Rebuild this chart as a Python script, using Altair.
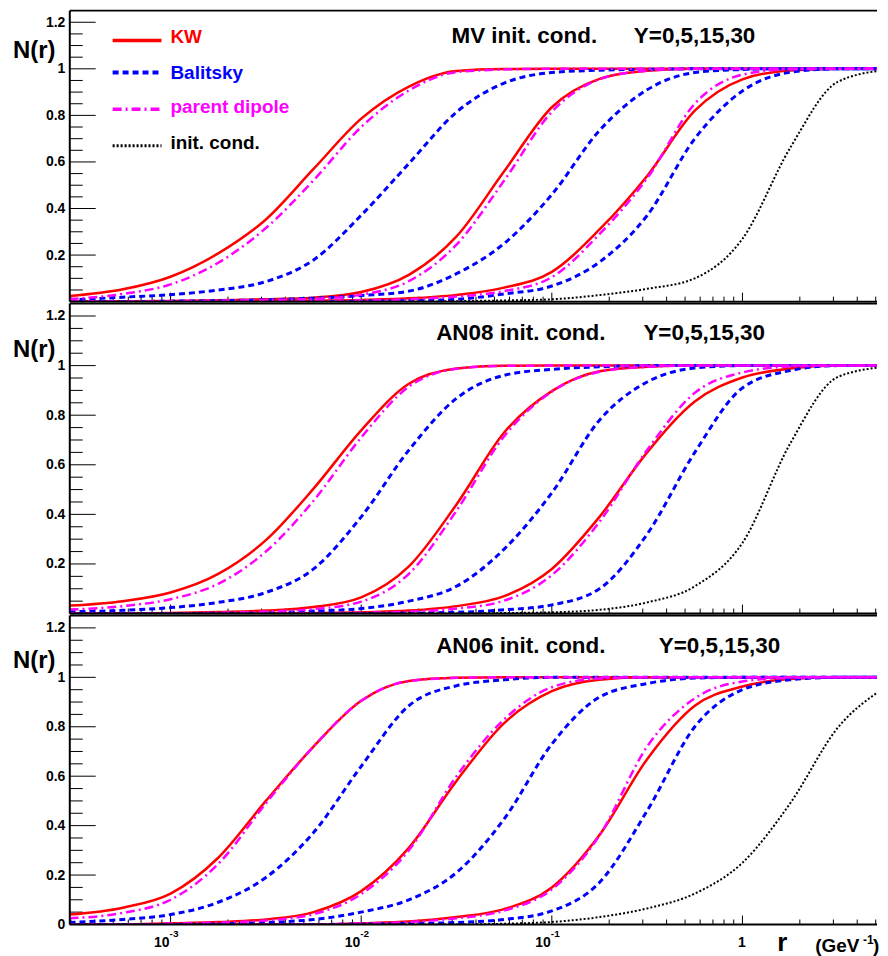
import altair as alt
import pandas as pd

# ---------------- data ----------------
LOGR = [-3.53, -3.25, -3.0, -2.75, -2.5, -2.25, -2.0, -1.75, -1.5, -1.25,
        -1.0, -0.75, -0.5, -0.25, 0.0, 0.25, 0.5, 0.75]

MV_KW_30 = [0.024, 0.053, 0.107, 0.207, 0.353, 0.570, 0.786, 0.924, 0.991, 0.999, 1.0, 1.0, 1.0, 1.0, 1.0, 1.0, 1.0, 1.0]
MV_PD_30 = [0.011, 0.033, 0.074, 0.167, 0.316, 0.521, 0.750, 0.907, 0.986, 0.997, 1.0, 1.0, 1.0, 1.0, 1.0, 1.0, 1.0, 1.0]
MV_BA_30 = [0.007, 0.019, 0.030, 0.050, 0.086, 0.179, 0.371, 0.593, 0.814, 0.939, 0.984, 0.994, 0.998, 1.0, 1.0, 1.0, 1.0, 1.0]
MV_KW_15 = [0.001, 0.002, 0.003, 0.006, 0.010, 0.017, 0.041, 0.115, 0.280, 0.560, 0.835, 0.957, 0.992, 1.0, 1.0, 1.0, 1.0, 1.0]
MV_PD_15 = [0.0, 0.001, 0.002, 0.004, 0.007, 0.012, 0.030, 0.088, 0.245, 0.520, 0.815, 0.955, 0.992, 1.0, 1.0, 1.0, 1.0, 1.0]
MV_BA_15 = [0.0, 0.0, 0.002, 0.004, 0.008, 0.015, 0.026, 0.045, 0.120, 0.250, 0.460, 0.735, 0.910, 0.984, 0.997, 1.0, 1.0, 1.0]
MV_KW_5 = [0.0, 0.0, 0.0, 0.0, 0.002, 0.004, 0.007, 0.014, 0.029, 0.060, 0.128, 0.310, 0.540, 0.820, 0.955, 0.993, 1.0, 1.0]
MV_PD_5 = [0.0, 0.0, 0.0, 0.0, 0.001, 0.003, 0.005, 0.010, 0.022, 0.045, 0.105, 0.290, 0.530, 0.850, 0.975, 0.998, 1.0, 1.0]
MV_BA_5 = [0.0, 0.0, 0.0, 0.0, 0.0, 0.0, 0.002, 0.004, 0.010, 0.033, 0.067, 0.170, 0.370, 0.700, 0.905, 0.985, 1.0, 1.0]
MV_INIT = [0.0, 0.0, 0.0, 0.0, 0.0, 0.0, 0.0, 0.0, 0.002, 0.005, 0.010, 0.028, 0.055, 0.100, 0.270, 0.660, 0.944, 0.995]

AN08_KW_30 = [0.032, 0.050, 0.085, 0.160, 0.296, 0.504, 0.739, 0.927, 0.988, 0.999, 1.0, 1.0, 1.0, 1.0, 1.0, 1.0, 1.0, 1.0]
AN08_PD_30 = [0.016, 0.030, 0.058, 0.120, 0.250, 0.455, 0.710, 0.915, 0.987, 0.999, 1.0, 1.0, 1.0, 1.0, 1.0, 1.0, 1.0, 1.0]
AN08_BA_30 = [0.007, 0.013, 0.024, 0.045, 0.085, 0.180, 0.390, 0.659, 0.868, 0.961, 0.985, 0.995, 1.0, 1.0, 1.0, 1.0, 1.0, 1.0]
AN08_KW_15 = [0.0, 0.0, 0.002, 0.006, 0.012, 0.026, 0.065, 0.190, 0.440, 0.730, 0.897, 0.977, 0.995, 1.0, 1.0, 1.0, 1.0, 1.0]
AN08_PD_15 = [0.0, 0.0, 0.001, 0.003, 0.008, 0.018, 0.048, 0.160, 0.415, 0.715, 0.895, 0.975, 0.995, 1.0, 1.0, 1.0, 1.0, 1.0]
AN08_BA_15 = [0.0, 0.0, 0.0, 0.001, 0.002, 0.010, 0.020, 0.050, 0.110, 0.260, 0.487, 0.780, 0.934, 0.990, 1.0, 1.0, 1.0, 1.0]
AN08_KW_5 = [0.0, 0.0, 0.0, 0.0, 0.0, 0.002, 0.005, 0.012, 0.030, 0.070, 0.180, 0.390, 0.650, 0.855, 0.952, 0.988, 1.0, 1.0]
AN08_PD_5 = [0.0, 0.0, 0.0, 0.0, 0.0, 0.001, 0.003, 0.008, 0.020, 0.052, 0.155, 0.370, 0.660, 0.890, 0.972, 0.996, 1.0, 1.0]
AN08_BA_5 = [0.0, 0.0, 0.0, 0.0, 0.0, 0.0, 0.0, 0.002, 0.005, 0.015, 0.035, 0.100, 0.320, 0.650, 0.910, 0.980, 1.0, 1.0]
AN08_INIT = [0.0, 0.0, 0.0, 0.0, 0.0, 0.0, 0.0, 0.0, 0.0, 0.002, 0.005, 0.015, 0.045, 0.110, 0.285, 0.685, 0.954, 0.995]

AN06_KW_30 = [0.040, 0.068, 0.125, 0.270, 0.500, 0.720, 0.905, 0.985, 0.998, 1.0, 1.0, 1.0, 1.0, 1.0, 1.0, 1.0, 1.0, 1.0]
AN06_PD_30 = [0.025, 0.047, 0.100, 0.245, 0.490, 0.720, 0.905, 0.985, 0.998, 1.0, 1.0, 1.0, 1.0, 1.0, 1.0, 1.0, 1.0, 1.0]
AN06_BA_30 = [0.008, 0.020, 0.040, 0.090, 0.190, 0.372, 0.640, 0.885, 0.966, 0.990, 1.0, 1.0, 1.0, 1.0, 1.0, 1.0, 1.0, 1.0]
AN06_KW_15 = [0.0, 0.0, 0.005, 0.010, 0.020, 0.050, 0.135, 0.310, 0.581, 0.815, 0.944, 0.990, 1.0, 1.0, 1.0, 1.0, 1.0, 1.0]
AN06_PD_15 = [0.0, 0.0, 0.004, 0.008, 0.016, 0.042, 0.123, 0.300, 0.600, 0.830, 0.960, 0.995, 1.0, 1.0, 1.0, 1.0, 1.0, 1.0]
AN06_BA_15 = [0.0, 0.0, 0.0, 0.002, 0.008, 0.020, 0.050, 0.100, 0.210, 0.427, 0.730, 0.920, 0.975, 0.997, 1.0, 1.0, 1.0, 1.0]
AN06_KW_5 = [0.0, 0.0, 0.0, 0.0, 0.0, 0.0, 0.005, 0.012, 0.030, 0.062, 0.150, 0.362, 0.669, 0.885, 0.963, 0.993, 1.0, 1.0]
AN06_PD_5 = [0.0, 0.0, 0.0, 0.0, 0.0, 0.0, 0.004, 0.010, 0.025, 0.056, 0.142, 0.360, 0.720, 0.915, 0.983, 0.998, 1.0, 1.0]
AN06_BA_5 = [0.0, 0.0, 0.0, 0.0, 0.0, 0.0, 0.002, 0.004, 0.008, 0.020, 0.055, 0.170, 0.460, 0.800, 0.950, 0.990, 1.0, 1.0]
AN06_INIT = [0.0, 0.0, 0.0, 0.0, 0.0, 0.0, 0.0, 0.0, 0.0, 0.003, 0.010, 0.030, 0.065, 0.125, 0.250, 0.490, 0.796, 0.960]

PANEL_NAMES = ["MV init. cond.", "AN08 init. cond.", "AN06 init. cond."]
PANEL_Y_TEXT = "Y=0,5,15,30"
LEGEND_LABELS = ["KW", "Balitsky", "parent dipole", "init. cond."]

XTICK_MAJOR = [0.001, 0.01, 0.1, 1.0]
XTICK_BASE = ["10", "10", "10", "1"]
XTICK_EXP = ["-3", "-2", "-1", ""]
XTICK_MINOR = [0.0003, 0.0004, 0.0005, 0.0006, 0.0007, 0.0008, 0.0009,
               0.002, 0.003, 0.004, 0.005, 0.006, 0.007, 0.008, 0.009,
               0.02, 0.03, 0.04, 0.05, 0.06, 0.07, 0.08, 0.09,
               0.2, 0.3, 0.4, 0.5, 0.6, 0.7, 0.8, 0.9,
               2.0, 3.0, 4.0, 5.0]
YTICK_MAJOR_TOP = [0.2, 0.4, 0.6, 0.8, 1.0, 1.2]
YTICK_MAJOR_BOTTOM = [0.0, 0.2, 0.4, 0.6, 0.8, 1.0, 1.2]
YTICK_MINOR = [0.05, 0.1, 0.15, 0.25, 0.3, 0.35, 0.45, 0.5, 0.55, 0.65, 0.7, 0.75,
               0.85, 0.9, 0.95, 1.05, 1.1, 1.15]

PANELS = [
    {"KW": {30: MV_KW_30, 15: MV_KW_15, 5: MV_KW_5}, "BA": {30: MV_BA_30, 15: MV_BA_15, 5: MV_BA_5},
     "PD": {30: MV_PD_30, 15: MV_PD_15, 5: MV_PD_5}, "INIT": {0: MV_INIT}},
    {"KW": {30: AN08_KW_30, 15: AN08_KW_15, 5: AN08_KW_5}, "BA": {30: AN08_BA_30, 15: AN08_BA_15, 5: AN08_BA_5},
     "PD": {30: AN08_PD_30, 15: AN08_PD_15, 5: AN08_PD_5}, "INIT": {0: AN08_INIT}},
    {"KW": {30: AN06_KW_30, 15: AN06_KW_15, 5: AN06_KW_5}, "BA": {30: AN06_BA_30, 15: AN06_BA_15, 5: AN06_BA_5},
     "PD": {30: AN06_PD_30, 15: AN06_PD_15, 5: AN06_PD_5}, "INIT": {0: AN06_INIT}},
]

# ---------------- styling / layout ----------------
FONT = "Liberation Sans"
W = 810
HEIGHTS = [292, 311, 310]
STYLES = {
    "KW": dict(color="#ff0000", strokeWidth=2.5),
    "BA": dict(color="#0000ff", strokeWidth=3, strokeDash=[6, 4]),
    "PD": dict(color="#ff00ff", strokeWidth=2.5, strokeDash=[9, 4, 2, 4]),
    "INIT": dict(color="#000000", strokeWidth=2, strokeDash=[2, 2]),
}
LEGEND_KINDS = ["KW", "BA", "PD", "INIT"]
LEGEND_COLORS = ["#ff0000", "#0000ff", "#ff00ff", "#000000"]
TITLE_POS = [(383, 566, 32.5), (367.6, 575.6, 37), (367.6, 591, 37.5)]
NR_BASE = [48, 54, 53]

xscale = alt.Scale(type="log", domain=[2.96e-4, 5.08], nice=False)
yscale = alt.Scale(domain=[0, 1.25], nice=False, zero=False)


def yaxis(values):
    return alt.Axis(values=values, format="~g", ticks=False, domain=False, grid=False,
                    labelFont=FONT, labelFontWeight="bold", labelFontSize=14,
                    labelPadding=5, labelColor="black", title=None)


def text_layer(txt, x, y, size, color="black", align="left", baseline="alphabetic"):
    return alt.Chart(pd.DataFrame({"t": [txt]})).mark_text(
        font=FONT, fontWeight="bold", fontSize=size, color=color, align=align,
        baseline=baseline
    ).encode(x=alt.value(x), y=alt.value(y), text="t:N")


def frame_layer(H):
    one = pd.DataFrame({"t": [0]})
    top = alt.Chart(one).mark_rule(color="black", strokeWidth=2).encode(
        x=alt.value(0), x2=alt.value(W), y=alt.value(0))
    bottom = alt.Chart(one).mark_rule(color="black", strokeWidth=2).encode(
        x=alt.value(0), x2=alt.value(W), y=alt.value(H))
    left = alt.Chart(one).mark_rule(color="black", strokeWidth=2).encode(
        x=alt.value(0), y=alt.value(0), y2=alt.value(H))
    return [top, bottom, left]


def make_panel(i):
    H = HEIGHTS[i]
    ymaj = YTICK_MAJOR_BOTTOM if i == 2 else YTICK_MAJOR_TOP
    Y = alt.Y("N:Q", scale=yscale, axis=yaxis(ymaj), title=None)
    X = alt.X("r:Q", scale=xscale, axis=None, title=None)
    layers = []
    # inward y ticks
    layers.append(alt.Chart(pd.DataFrame({"N": ymaj})).mark_rule(color="black", strokeWidth=1)
                  .encode(y=Y, x=alt.value(0), x2=alt.value(26)))
    layers.append(alt.Chart(pd.DataFrame({"N": YTICK_MINOR})).mark_rule(color="black", strokeWidth=1)
                  .encode(y=Y, x=alt.value(0), x2=alt.value(13)))
    # inward x ticks
    layers.append(alt.Chart(pd.DataFrame({"r": XTICK_MAJOR})).mark_rule(color="black", strokeWidth=1)
                  .encode(x=X, y=alt.value(H), y2=alt.value(H - 9)))
    layers.append(alt.Chart(pd.DataFrame({"r": XTICK_MINOR})).mark_rule(color="black", strokeWidth=1)
                  .encode(x=X, y=alt.value(H), y2=alt.value(H - 5)))
    # curves
    for kind in ["KW", "BA", "PD", "INIT"]:
        rows = []
        for yv, vals in PANELS[i][kind].items():
            for lr, n in zip(LOGR, vals):
                rows.append({"r": 10 ** lr, "N": n, "series": f"{kind}{yv}"})
        df = pd.DataFrame(rows)
        layers.append(alt.Chart(df).mark_line(interpolate="monotone", clip=True,
                                              strokeCap="butt", **STYLES[kind])
                      .encode(x=X, y=Y, detail="series:N"))
    layers.extend(frame_layer(H))
    # titles
    tx1, tx2, tb = TITLE_POS[i]
    layers.append(text_layer(PANEL_NAMES[i], tx1, tb, 22.5))
    layers.append(text_layer(PANEL_Y_TEXT, tx2, tb, 22.5))
    layers.append(text_layer("N(r)", -57, NR_BASE[i], 24))
    if i == 0:
        line_y = [30, 62, 99, 135.5]
        text_y = [32.7, 68.3, 103, 139]
        for k, lab, col, ly, tyy in zip(LEGEND_KINDS, LEGEND_LABELS, LEGEND_COLORS, line_y, text_y):
            st = dict(STYLES[k])
            st["strokeWidth"] = st["strokeWidth"] + 1
            layers.append(alt.Chart(pd.DataFrame({"t": [lab]})).mark_rule(strokeCap="butt", **st)
                          .encode(x=alt.value(43), x2=alt.value(92), y=alt.value(ly)))
            layers.append(text_layer(lab, 101, tyy, 19, color=col))
    if i == 2:
        dfx = pd.DataFrame({"r": XTICK_MAJOR, "base": XTICK_BASE, "exp": XTICK_EXP})
        dexp = dfx[dfx["exp"] != ""]
        done = dfx[dfx["exp"] == ""]
        layers.append(alt.Chart(dexp).mark_text(font=FONT, fontWeight="bold", fontSize=14,
                                                align="right", baseline="middle", dx=-1, color="black")
                      .encode(x=X, y=alt.value(H + 18.5), text="base:N"))
        layers.append(alt.Chart(dexp).mark_text(font=FONT, fontWeight="bold", fontSize=10,
                                                align="left", baseline="middle", dx=-1, color="black")
                      .encode(x=X, y=alt.value(H + 10), text="exp:N"))
        layers.append(alt.Chart(done).mark_text(font=FONT, fontWeight="bold", fontSize=14,
                                                align="center", baseline="middle", dx=-0.5, color="black")
                      .encode(x=X, y=alt.value(H + 18.5), text="base:N"))
        layers.append(text_layer("r", 710, H + 27, 26))
        layers.append(text_layer("(GeV", 748, H + 28, 19))
        layers.append(text_layer("-1", 796, H + 20, 12))
        layers.append(text_layer(")", 806, H + 28, 19))
    return alt.layer(*layers).properties(width=W, height=H)


chart = alt.vconcat(*[make_panel(i) for i in range(3)], spacing=0).properties(
    padding={"left": 5, "top": 0, "right": 0, "bottom": 0}
).configure_view(stroke="transparent", strokeWidth=0)

chart.save("out.html", embed_options={"renderer": "svg", "actions": False})
